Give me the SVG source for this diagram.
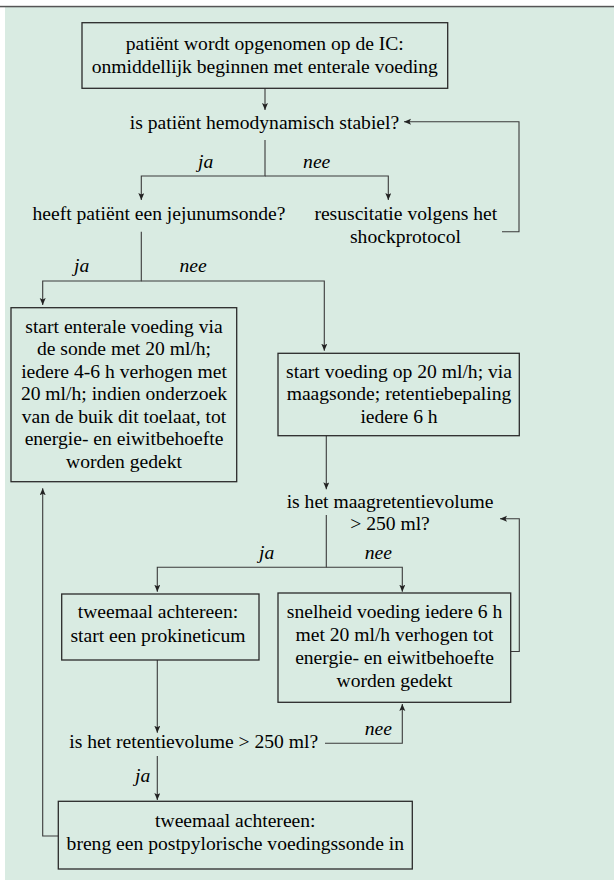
<svg xmlns="http://www.w3.org/2000/svg" width="614" height="883" viewBox="0 0 614 883">
<defs>
<marker id="ah" markerUnits="userSpaceOnUse" markerWidth="10" markerHeight="10" refX="7" refY="3" orient="auto">
<path d="M0,0 L7,3 L0,6 L1.5,3 Z" fill="#222"/>
</marker>
</defs>
<rect x="0" y="0" width="614" height="883" fill="#ffffff"/>
<rect x="5" y="7" width="609" height="873" fill="#d9ebe2"/>
<rect x="0" y="5.8" width="614" height="1.5" fill="#555"/>
<g id="connectors">
<path d="M265 88.3 V110" fill="none" stroke="#3a3a3a" stroke-width="1.1" marker-end="url(#ah)"/>
<path d="M265 140 V176 H141.3 V200" fill="none" stroke="#3a3a3a" stroke-width="1.1" marker-end="url(#ah)"/>
<path d="M265 176 H388.3 V200" fill="none" stroke="#3a3a3a" stroke-width="1.1" marker-end="url(#ah)"/>
<path d="M502 231.7 H519 V121.7 H404" fill="none" stroke="#3a3a3a" stroke-width="1.1" marker-end="url(#ah)"/>
<path d="M141.3 231.7 V281 H42.7 V305" fill="none" stroke="#3a3a3a" stroke-width="1.1" marker-end="url(#ah)"/>
<path d="M141.3 281 H324.3 V350.7" fill="none" stroke="#3a3a3a" stroke-width="1.1" marker-end="url(#ah)"/>
<path d="M326.3 435.7 V489.3" fill="none" stroke="#3a3a3a" stroke-width="1.1" marker-end="url(#ah)"/>
<path d="M326.3 515 V567.3 H157.3 V591.7" fill="none" stroke="#3a3a3a" stroke-width="1.1" marker-end="url(#ah)"/>
<path d="M326.3 567.3 H402.3 V591.7" fill="none" stroke="#3a3a3a" stroke-width="1.1" marker-end="url(#ah)"/>
<path d="M510.7 651.5 H519.3 V518.7 H500" fill="none" stroke="#3a3a3a" stroke-width="1.1" marker-end="url(#ah)"/>
<path d="M157.3 660 V732.7" fill="none" stroke="#3a3a3a" stroke-width="1.1" marker-end="url(#ah)"/>
<path d="M325 743.3 H402.3 V704" fill="none" stroke="#3a3a3a" stroke-width="1.1" marker-end="url(#ah)"/>
<path d="M157.3 756 V800" fill="none" stroke="#3a3a3a" stroke-width="1.1" marker-end="url(#ah)"/>
<path d="M58.3 836 H42.7 V488.3" fill="none" stroke="#3a3a3a" stroke-width="1.1" marker-end="url(#ah)"/>
<text x="205.7" y="168" font-family="Liberation Serif" font-size="19.6" font-style="italic" text-anchor="middle">ja</text>
<text x="316.7" y="168" font-family="Liberation Serif" font-size="19.6" font-style="italic" text-anchor="middle">nee</text>
<text x="81.7" y="271.7" font-family="Liberation Serif" font-size="19.6" font-style="italic" text-anchor="middle">ja</text>
<text x="193" y="271.7" font-family="Liberation Serif" font-size="19.6" font-style="italic" text-anchor="middle">nee</text>
<text x="266.7" y="559.3" font-family="Liberation Serif" font-size="19.6" font-style="italic" text-anchor="middle">ja</text>
<text x="378.3" y="559.3" font-family="Liberation Serif" font-size="19.6" font-style="italic" text-anchor="middle">nee</text>
<text x="378.3" y="735" font-family="Liberation Serif" font-size="19.6" font-style="italic" text-anchor="middle">nee</text>
<text x="142.7" y="781.7" font-family="Liberation Serif" font-size="19.6" font-style="italic" text-anchor="middle">ja</text>
</g>
<g id="start">
<rect x="82" y="22.7" width="365.7" height="65.6" fill="none" stroke="#2a2a2a" stroke-width="1.3"/>
<text x="264.8" y="50" font-family="Liberation Serif" font-size="19.6" text-anchor="middle">patiënt wordt opgenomen op de IC:</text>
<text x="264.8" y="72.7" font-family="Liberation Serif" font-size="19.6" text-anchor="middle">onmiddellijk beginnen met enterale voeding</text>
</g>
<g id="q-stabiel">
<text x="264.5" y="129.3" font-family="Liberation Serif" font-size="19.6" text-anchor="middle">is patiënt hemodynamisch stabiel?</text>
</g>
<g id="q-jejunum">
<text x="159" y="220" font-family="Liberation Serif" font-size="19.6" text-anchor="middle">heeft patiënt een jejunumsonde?</text>
</g>
<g id="resuscitatie">
<text x="405.8" y="220" font-family="Liberation Serif" font-size="19.6" text-anchor="middle">resuscitatie volgens het</text>
<text x="405.5" y="243" font-family="Liberation Serif" font-size="19.6" text-anchor="middle">shockprotocol</text>
</g>
<g id="enteraal">
<rect x="11" y="307.7" width="225.7" height="174" fill="none" stroke="#2a2a2a" stroke-width="1.3"/>
<text x="124" y="332.7" font-family="Liberation Serif" font-size="19.6" text-anchor="middle">start enterale voeding via</text>
<text x="124" y="355.2" font-family="Liberation Serif" font-size="19.6" text-anchor="middle">de sonde met 20 ml/h;</text>
<text x="124" y="377.7" font-family="Liberation Serif" font-size="19.6" text-anchor="middle">iedere 4-6 h verhogen met</text>
<text x="124" y="400" font-family="Liberation Serif" font-size="19.6" text-anchor="middle">20 ml/h; indien onderzoek</text>
<text x="124" y="422.5" font-family="Liberation Serif" font-size="19.6" text-anchor="middle">van de buik dit toelaat, tot</text>
<text x="124" y="445" font-family="Liberation Serif" font-size="19.6" text-anchor="middle">energie- en eiwitbehoefte</text>
<text x="124" y="467.7" font-family="Liberation Serif" font-size="19.6" text-anchor="middle">worden gedekt</text>
</g>
<g id="maagsonde">
<rect x="278" y="353.3" width="241.3" height="82.4" fill="none" stroke="#2a2a2a" stroke-width="1.3"/>
<text x="399" y="377.5" font-family="Liberation Serif" font-size="19.6" text-anchor="middle">start voeding op 20 ml/h; via</text>
<text x="399" y="400" font-family="Liberation Serif" font-size="19.6" text-anchor="middle">maagsonde; retentiebepaling</text>
<text x="399" y="422.8" font-family="Liberation Serif" font-size="19.6" text-anchor="middle">iedere 6 h</text>
</g>
<g id="q-maagretentie">
<text x="390" y="507.7" font-family="Liberation Serif" font-size="19.6" text-anchor="middle">is het maagretentievolume</text>
<text x="390" y="530" font-family="Liberation Serif" font-size="19.6" text-anchor="middle">&gt; 250 ml?</text>
</g>
<g id="prokineticum">
<rect x="61.7" y="594" width="197.3" height="66" fill="none" stroke="#2a2a2a" stroke-width="1.3"/>
<text x="158" y="618.3" font-family="Liberation Serif" font-size="19.6" text-anchor="middle">tweemaal achtereen:</text>
<text x="158" y="641.7" font-family="Liberation Serif" font-size="19.6" text-anchor="middle">start een prokineticum</text>
</g>
<g id="snelheid">
<rect x="278" y="593" width="232.7" height="109.3" fill="none" stroke="#2a2a2a" stroke-width="1.3"/>
<text x="394.5" y="617.7" font-family="Liberation Serif" font-size="19.6" text-anchor="middle">snelheid voeding iedere 6 h</text>
<text x="394.5" y="641" font-family="Liberation Serif" font-size="19.6" text-anchor="middle">met 20 ml/h verhogen tot</text>
<text x="394.5" y="664" font-family="Liberation Serif" font-size="19.6" text-anchor="middle">energie- en eiwitbehoefte</text>
<text x="394.5" y="686.5" font-family="Liberation Serif" font-size="19.6" text-anchor="middle">worden gedekt</text>
</g>
<g id="q-retentie">
<text x="193.7" y="748.3" font-family="Liberation Serif" font-size="19.6" text-anchor="middle">is het retentievolume &gt; 250 ml?</text>
</g>
<g id="postpylorisch">
<rect x="58.3" y="801.3" width="354" height="67.7" fill="none" stroke="#2a2a2a" stroke-width="1.3"/>
<text x="235.3" y="826.7" font-family="Liberation Serif" font-size="19.6" text-anchor="middle">tweemaal achtereen:</text>
<text x="235.3" y="850" font-family="Liberation Serif" font-size="19.6" text-anchor="middle">breng een postpylorische voedingssonde in</text>
</g>
</svg>
